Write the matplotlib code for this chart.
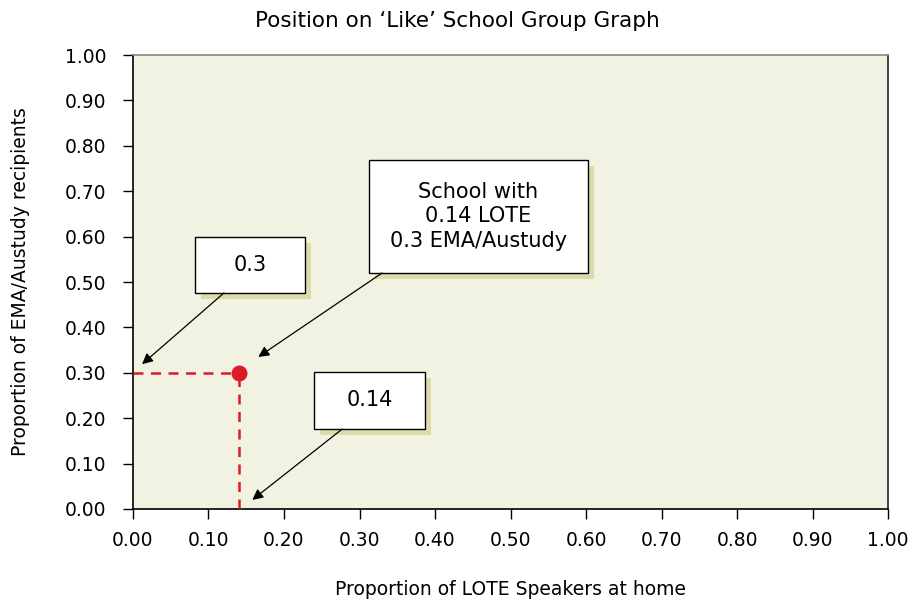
import matplotlib.pyplot as plt
from matplotlib.patches import Rectangle

# school position
lote = [0.14]
ema = [0.30]

ticks = [0.0, 0.1, 0.2, 0.3, 0.4, 0.5, 0.6, 0.7, 0.8, 0.9, 1.0]
tick_labels = [f"{t:.2f}" for t in ticks]

title = "Position on \u2018Like\u2019 School Group Graph"
xlabel = "Proportion of LOTE Speakers at home"
ylabel = "Proportion of EMA/Austudy recipients"

# callout boxes: text, (x0, y0, x1, y1) in data coords, arrow start, arrow end
callouts = [
    ("0.3", (0.082, 0.476, 0.228, 0.599), (0.1205, 0.476), (0.012, 0.319)),
    ("School with\n0.14 LOTE\n0.3 EMA/Austudy", (0.3126, 0.520, 0.6026, 0.769),
     (0.330, 0.520), (0.166, 0.335)),
    ("0.14", (0.2397, 0.176, 0.3868, 0.302), (0.277, 0.176), (0.158, 0.020)),
]

RED = "#dc1c24"
BG = "#f2f2e3"
SHADOW = "#dcdcaa"

plt.rcParams["font.family"] = ["DejaVu Sans"]

fig = plt.figure(figsize=(9.14, 6.05), dpi=100)
ax = fig.add_axes([0.1455, 0.1587, 0.8261, 0.7503])
ax.set_facecolor(BG)
ax.set_xlim(0, 1)
ax.set_ylim(0, 1)

# dashed guide lines
ax.plot([0, lote[0]], [ema[0], ema[0]], ls=(0, (4, 3)), color=RED, lw=1.8, zorder=3)
ax.plot([lote[0], lote[0]], [0, ema[0]], ls=(0, (4, 3)), color=RED, lw=1.8, zorder=3)
ax.scatter(lote, ema, s=110, color=RED, zorder=4)

dx, dy = 0.008, 0.013
for text, (x0, y0, x1, y1), start, end in callouts:
    ax.add_patch(Rectangle((x0 + dx, y0 - dy), x1 - x0, y1 - y0,
                           facecolor=SHADOW, edgecolor="none", zorder=5))
    ax.add_patch(Rectangle((x0, y0), x1 - x0, y1 - y0,
                           facecolor="white", edgecolor="black", lw=1.0, zorder=6))
    ax.text((x0 + x1) / 2, (y0 + y1) / 2, text, ha="center", va="center",
            fontsize=15, linespacing=1.3, zorder=7)
    ax.annotate("", xy=end, xytext=start,
                arrowprops=dict(arrowstyle="-|>", color="black", lw=0.9,
                                mutation_scale=16, shrinkA=0, shrinkB=0),
                zorder=7)

ax.set_xticks(ticks)
ax.set_xticklabels(tick_labels)
ax.set_yticks(ticks)
ax.set_yticklabels(tick_labels)
ax.tick_params(direction="out", length=7, width=1, labelsize=13.5)
ax.tick_params(axis="x", pad=9)
ax.tick_params(axis="y", pad=12)

ax.spines["top"].set_color("#888888")
ax.spines["right"].set_color("#222222")
for s in ax.spines.values():
    s.set_linewidth(1.2)

fig.text(0.5, 0.966, title, ha="center", va="center", fontsize=15.5)
ax.set_xlabel(xlabel, fontsize=13.5)
ax.set_ylabel(ylabel, fontsize=13.5)
ax.xaxis.set_label_coords(0.5, -0.157)
ax.yaxis.set_label_coords(-0.136, 0.5)

fig.savefig("out.png", dpi=100)
